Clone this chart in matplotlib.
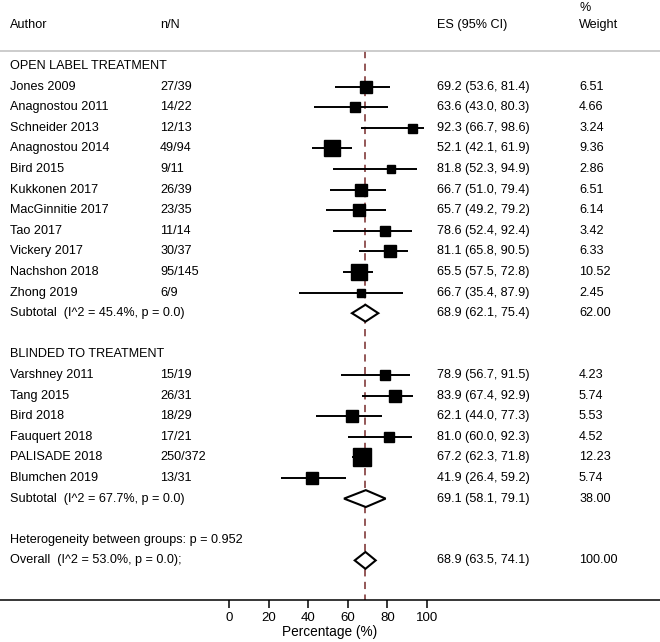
"""Forest plot: proportion of responders, open label vs blinded studies."""
import numpy as np
import matplotlib
matplotlib.use("Agg")
import matplotlib.pyplot as plt
from matplotlib.patches import Polygon
import matplotlib.transforms as mtransforms

plt.rcParams["font.family"] = ["Liberation Sans", "DejaVu Sans"]
plt.rcParams["font.size"] = 9.1

# open label studies
open_authors = ["Jones 2009", "Anagnostou 2011", "Schneider 2013", "Anagnostou 2014",
                "Bird 2015", "Kukkonen 2017", "MacGinnitie 2017", "Tao 2017",
                "Vickery 2017", "Nachshon 2018", "Zhong 2019"]
open_nN = ["27/39", "14/22", "12/13", "49/94", "9/11", "26/39", "23/35", "11/14",
           "30/37", "95/145", "6/9"]
open_es = [69.2, 63.6, 92.3, 52.1, 81.8, 66.7, 65.7, 78.6, 81.1, 65.5, 66.7]
open_lo = [53.6, 43.0, 66.7, 42.1, 52.3, 51.0, 49.2, 52.4, 65.8, 57.5, 35.4]
open_hi = [81.4, 80.3, 98.6, 61.9, 94.9, 79.4, 79.2, 92.4, 90.5, 72.8, 87.9]
open_w = [6.51, 4.66, 3.24, 9.36, 2.86, 6.51, 6.14, 3.42, 6.33, 10.52, 2.45]

# blinded studies
blind_authors = ["Varshney 2011", "Tang 2015", "Bird 2018", "Fauquert 2018",
                 "PALISADE 2018", "Blumchen 2019"]
blind_nN = ["15/19", "26/31", "18/29", "17/21", "250/372", "13/31"]
blind_es = [78.9, 83.9, 62.1, 81.0, 67.2, 41.9]
blind_lo = [56.7, 67.4, 44.0, 60.0, 62.3, 26.4]
blind_hi = [91.5, 92.9, 77.3, 92.3, 71.8, 59.2]
blind_w = [4.23, 5.74, 5.53, 4.52, 12.23, 5.74]

# pooled estimates: es, lo, hi, weight, I^2
open_sub = (68.9, 62.1, 75.4, 62.00, 45.4)
blind_sub = (69.1, 58.1, 79.1, 38.00, 67.7)
overall = (68.9, 63.5, 74.1, 100.00, 53.0)
het_p = 0.952

xticks = [0, 20, 40, 60, 80, 100]

W, H = 660, 642
fig = plt.figure(figsize=(W / 100, H / 100), dpi=100)
ax = fig.add_axes([0, 42 / H, 1, 1 - 42 / H])

# pixel -> data mapping
x0_px, px_per = 229, 1.98
ax.set_xlim(-x0_px / px_per, (W - x0_px) / px_per)
row0_px, step = 66, 20.6
ax.set_ylim((600 - row0_px) / step, -row0_px / step)

trans = mtransforms.blended_transform_factory(ax.transAxes, ax.transData)
col_author, col_nn, col_es, col_w = 10 / W, 160 / W, 437 / W, 579 / W


def row_text(y, author, nn="", es_txt="", w_txt=""):
    ax.text(col_author, y, author, transform=trans, va="center", ha="left")
    if nn:
        ax.text(col_nn, y, nn, transform=trans, va="center", ha="left")
    if es_txt:
        ax.text(col_es, y, es_txt, transform=trans, va="center", ha="left")
    if w_txt:
        ax.text(col_w, y, w_txt, transform=trans, va="center", ha="left")


def study(y, es, lo, hi, w):
    ax.hlines(y, lo, hi, color="black", lw=1.4, zorder=3)
    ax.plot(es, y, "s", color="black", ms=3.6 * np.sqrt(w), zorder=4)


def diamond(y, es, lo, hi):
    h = 0.41
    ax.add_patch(Polygon([(lo, y), (es, y - h), (hi, y), (es, y + h)], closed=True,
                         facecolor="white", edgecolor="black", lw=1.5, zorder=3))


def fmt(es, lo, hi):
    return f"{es:.1f} ({lo:.1f}, {hi:.1f})"


# header
ax.text(col_author, -2.0, "Author", transform=trans, va="center")
ax.text(col_nn, -2.0, "n/N", transform=trans, va="center")
ax.text(col_es, -2.0, "ES (95% CI)", transform=trans, va="center")
ax.text(col_w, -2.0, "Weight", transform=trans, va="center")
ax.text(col_w, -2.8, "%", transform=trans, va="center")
sep = (51 - row0_px) / step
ax.plot([0, 1], [sep, sep], transform=trans, color="#c8c8c8", lw=1.3, clip_on=False)

# overall reference line
ax.plot([overall[0], overall[0]], [sep, (600 - row0_px) / step], color="#8b4a4a",
        lw=1.3, dashes=(4, 3), zorder=1)

y = 0
row_text(y, "OPEN LABEL TREATMENT")
for a, nn, es, lo, hi, w in zip(open_authors, open_nN, open_es, open_lo, open_hi, open_w):
    y += 1
    row_text(y, a, nn, fmt(es, lo, hi), f"{w:.2f}")
    study(y, es, lo, hi, w)
y += 1
row_text(y, f"Subtotal  (I^2 = {open_sub[4]:.1f}%, p = 0.0)", "",
         fmt(*open_sub[:3]), f"{open_sub[3]:.2f}")
diamond(y, *open_sub[:3])

y += 2
row_text(y, "BLINDED TO TREATMENT")
for a, nn, es, lo, hi, w in zip(blind_authors, blind_nN, blind_es, blind_lo, blind_hi, blind_w):
    y += 1
    row_text(y, a, nn, fmt(es, lo, hi), f"{w:.2f}")
    study(y, es, lo, hi, w)
y += 1
row_text(y, f"Subtotal  (I^2 = {blind_sub[4]:.1f}%, p = 0.0)", "",
         fmt(*blind_sub[:3]), f"{blind_sub[3]:.2f}")
diamond(y, *blind_sub[:3])

y += 2
row_text(y, f"Heterogeneity between groups: p = {het_p:.3f}")
y += 1
row_text(y, f"Overall  (I^2 = {overall[4]:.1f}%, p = 0.0);", "",
         fmt(*overall[:3]), f"{overall[3]:.2f}")
diamond(y, *overall[:3])

# axis
for s in ["top", "left", "right"]:
    ax.spines[s].set_visible(False)
ax.spines["bottom"].set_linewidth(1.1)
ax.set_yticks([])
ax.set_xticks(xticks)
ax.tick_params(axis="x", length=5.5, width=1.1, pad=3, labelsize=9.5)
ax.set_xlabel("Percentage (%)", fontsize=9.8, labelpad=1)

fig.savefig("out.png", dpi=100)
